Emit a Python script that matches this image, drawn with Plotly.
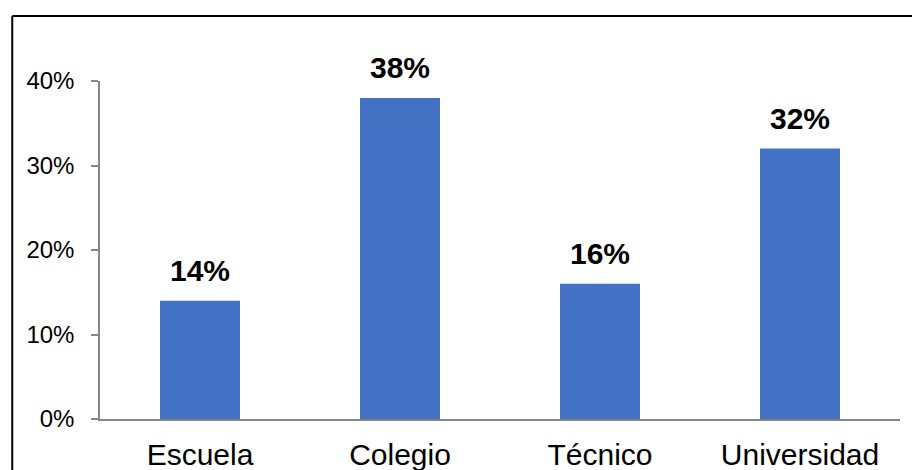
import plotly.graph_objects as go

categories = ["Escuela", "Colegio", "Técnico", "Universidad"]
shares = [0.14, 0.38, 0.16, 0.32]
y_ticks = [0, 0.1, 0.2, 0.3, 0.4]
y_tick_text = ["0%", "10%", "20%", "30%", "40%"]

BAR_COLOR = "#4472C4"
AXIS_COLOR = "#868686"
FONT = "Arial, Liberation Sans, sans-serif"

fig = go.Figure(
    go.Bar(
        x=categories,
        y=shares,
        marker=dict(color=BAR_COLOR, line=dict(width=0)),
        width=0.4,
        hoverinfo="skip",
    )
)

# value labels above each bar
for cat, val in zip(categories, shares):
    fig.add_annotation(
        x=cat, y=val, text=f"<b>{round(val * 100)}%</b>",
        showarrow=False, yanchor="bottom", yshift=12,
        font=dict(family=FONT, size=30, color="black"),
    )

# outer frame of the chart area
fig.add_shape(type="line", xref="paper", yref="paper",
              x0=-0.1097, x1=-0.1097, y0=1.192, y1=-0.3,
              line=dict(color="black", width=2))
fig.add_shape(type="line", xref="paper", yref="paper",
              x0=-0.1097, x1=1.1, y0=1.192, y1=1.192,
              line=dict(color="black", width=2))

fig.update_layout(
    width=912, height=470,
    margin=dict(l=100, r=12, t=81, b=51),
    paper_bgcolor="white", plot_bgcolor="white",
    showlegend=False, bargap=0.6,
    font=dict(family=FONT, color="black"),
)
fig.update_xaxes(
    showline=True, linecolor=AXIS_COLOR, linewidth=1.5,
    ticks="", showgrid=False, tickfont=dict(size=30, color="black"),
    ticklabelstandoff=8, automargin=False,
)
fig.update_yaxes(
    range=[0, 0.4], tickvals=y_ticks, ticktext=y_tick_text,
    showline=True, linecolor=AXIS_COLOR, linewidth=1.5,
    ticks="outside", ticklen=7, tickcolor=AXIS_COLOR, tickwidth=1.5,
    showgrid=False, zeroline=False, tickfont=dict(size=24, color="black"),
    ticklabelstandoff=12, automargin=False,
)

fig.write_html("out.html")
